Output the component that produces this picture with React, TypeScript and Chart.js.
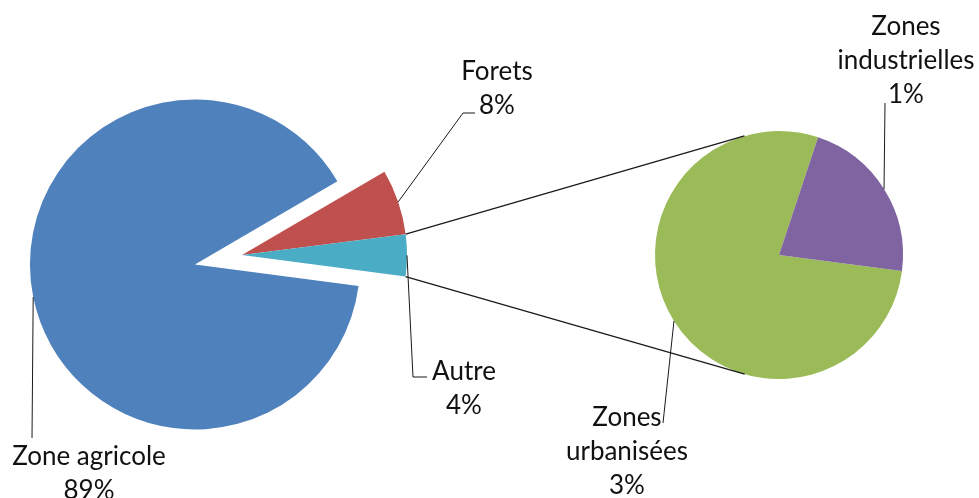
import React, { useEffect, useRef } from 'react';
import { Chart, registerables } from 'chart.js';

Chart.register(...registerables);

// ---- data ----
const mainCategories = ['Zone agricole', 'Forets', 'Autre'];
const mainValues = [89.5, 6.4, 4.1];
const mainPercentLabels = ['89%', '8%', '4%'];

const subCategories = ['Zones urbanisées', 'Zones industrielles'];
const subValues = [3.2, 0.9];
const subPercentLabels = ['3%', '1%'];

// ---- styles / layout ----
const mainColors = ['#4F81BD', '#C0504D', '#4BACC6'];
const subColors = ['#9BBB59', '#8064A2'];

const MAIN = { cx: 242, cy: 255, r: 165, explode: 48, rotation: 97.5 };
const SUB = { cx: 779, cy: 255, r: 124, rotation: 97.4 };

const FONT = '26px Lato, "Open Sans", sans-serif';
const LINE_H = 34;

// label placement: [datasetIndex, dataIndex, leader-line waypoints, text centre of first line, wrap words]
const labelPlacement: Array<{ ds: number; i: number; path: number[][]; at: number[]; wrap: boolean }> = [
  { ds: 0, i: 0, path: [[32, 438]], at: [89, 457], wrap: false },
  { ds: 0, i: 1, path: [[463, 113], [475, 113]], at: [497, 72], wrap: false },
  { ds: 0, i: 2, path: [[413, 377], [427, 377]], at: [464, 372], wrap: false },
  { ds: 1, i: 0, path: [[663, 423]], at: [627, 418], wrap: true },
  { ds: 1, i: 1, path: [[885, 103]], at: [906, 27], wrap: true },
];

const pieOfPie = {
  id: 'pieOfPie',
  afterDatasetsUpdate(chart: any) {
    const m0 = chart.getDatasetMeta(0);
    m0.data.forEach((arc: any, i: number) => {
      const mid = (arc.startAngle + arc.endAngle) / 2;
      const e = i === 0 ? MAIN.explode : 0;
      arc.x = MAIN.cx + Math.cos(mid) * e;
      arc.y = MAIN.cy + Math.sin(mid) * e;
      arc.innerRadius = 0;
      arc.outerRadius = MAIN.r;
    });
    const m1 = chart.getDatasetMeta(1);
    m1.data.forEach((arc: any) => {
      arc.x = SUB.cx;
      arc.y = SUB.cy;
      arc.innerRadius = 0;
      arc.outerRadius = SUB.r;
    });
  },
  afterDraw(chart: any) {
    const ctx = chart.ctx as CanvasRenderingContext2D;
    const m0 = chart.getDatasetMeta(0);
    const m1 = chart.getDatasetMeta(1);
    ctx.save();

    // connector lines from "Autre" slice to the secondary pie (tangents)
    const other = m0.data[2];
    const sub0 = m1.data[0];
    const C = { x: sub0.x, y: sub0.y };
    const R = sub0.outerRadius;
    const tangent = (px: number, py: number, sign: number) => {
      const dx = px - C.x, dy = py - C.y;
      const d = Math.hypot(dx, dy);
      const phi = Math.atan2(dy, dx);
      const a = Math.acos(R / d);
      const t = phi + sign * a;
      return [C.x + R * Math.cos(t), C.y + R * Math.sin(t)];
    };
    const p1 = [other.x + other.outerRadius * Math.cos(other.startAngle), other.y + other.outerRadius * Math.sin(other.startAngle)];
    const p2 = [other.x + other.outerRadius * Math.cos(other.endAngle), other.y + other.outerRadius * Math.sin(other.endAngle)];
    const t1 = tangent(p1[0], p1[1], 1);
    const t2 = tangent(p2[0], p2[1], -1);
    ctx.strokeStyle = '#1a1a1a';
    ctx.lineWidth = 1.3;
    ctx.beginPath();
    ctx.moveTo(p1[0], p1[1]);
    ctx.lineTo(t1[0], t1[1]);
    ctx.moveTo(p2[0], p2[1]);
    ctx.lineTo(t2[0], t2[1]);
    ctx.stroke();

    // data labels with leader lines
    ctx.lineWidth = 1;
    ctx.font = FONT;
    ctx.fillStyle = '#111';
    ctx.textAlign = 'center';
    ctx.textBaseline = 'middle';
    labelPlacement.forEach((lp) => {
      const meta = lp.ds === 0 ? m0 : m1;
      const arc = meta.data[lp.i];
      const mid = (arc.startAngle + arc.endAngle) / 2;
      const sx = arc.x + arc.outerRadius * Math.cos(mid);
      const sy = arc.y + arc.outerRadius * Math.sin(mid);
      ctx.beginPath();
      ctx.moveTo(sx, sy);
      lp.path.forEach((p) => ctx.lineTo(p[0], p[1]));
      ctx.stroke();
      const name = lp.ds === 0 ? mainCategories[lp.i] : subCategories[lp.i];
      const pct = lp.ds === 0 ? mainPercentLabels[lp.i] : subPercentLabels[lp.i];
      const lines = (lp.wrap ? name.split(' ') : [name]).concat([pct]);
      lines.forEach((t, k) => ctx.fillText(t, lp.at[0], lp.at[1] + k * LINE_H));
    });
    ctx.restore();
  },
};

export default function App() {
  const ref = useRef<HTMLCanvasElement | null>(null);
  useEffect(() => {
    if (!ref.current) return;
    const chart = new Chart(ref.current, {
      type: 'pie',
      data: {
        labels: mainCategories,
        datasets: [
          {
            label: 'Occupation du sol',
            data: mainValues,
            backgroundColor: mainColors,
            borderWidth: 0,
            rotation: MAIN.rotation,
          } as any,
          {
            label: 'Autre',
            data: subValues,
            backgroundColor: subColors,
            borderWidth: 0,
            rotation: SUB.rotation,
          } as any,
        ],
      },
      options: {
        responsive: false,
        animation: false,
        events: [],
        layout: { padding: 0 },
        plugins: { legend: { display: false }, tooltip: { enabled: false } },
      },
      plugins: [pieOfPie],
    });
    return () => chart.destroy();
  }, []);
  return (
    <div style={{ position: 'fixed', left: 0, top: 0, width: 979, height: 498, background: '#fff' }}>
      <canvas ref={ref} width={979} height={498} style={{ display: 'block' }} />
    </div>
  );
}
